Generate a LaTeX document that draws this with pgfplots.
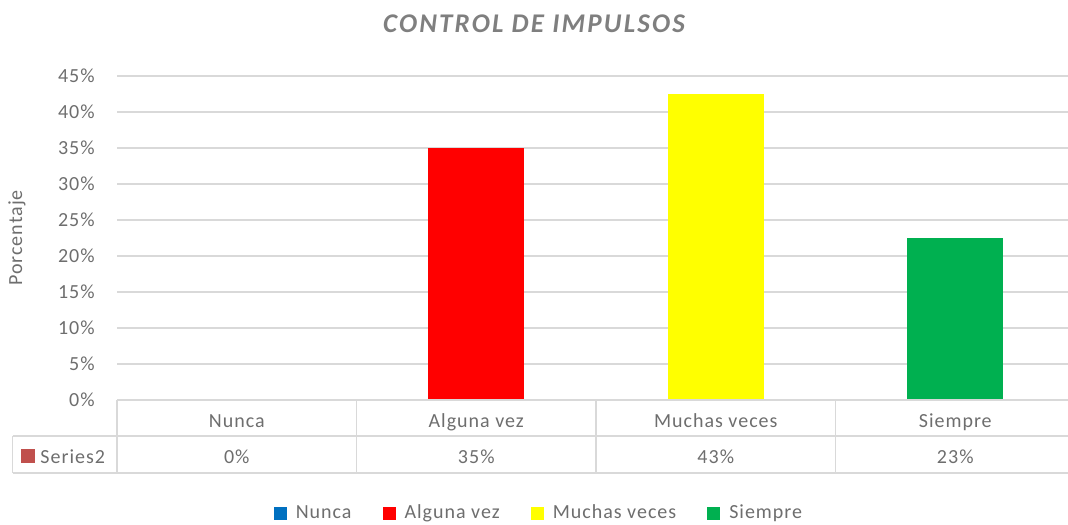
\documentclass[border=0pt]{standalone}
\usepackage{fontspec}
\setmainfont{Carlito}[LetterSpace=5]
\newfontfamily\titlefont{Carlito}[LetterSpace=8]
\usepackage{pgfplots}
\pgfplotsset{compat=1.18}
\definecolor{txt}{HTML}{6E6E6E}
\definecolor{ttl}{HTML}{7F7F7F}
\definecolor{grd}{HTML}{D9D9D9}
\definecolor{cNunca}{HTML}{0070C0}
\definecolor{cAlguna}{HTML}{FF0000}
\definecolor{cMuchas}{HTML}{FFFF00}
\definecolor{cSiempre}{HTML}{00B050}
\definecolor{cSer}{HTML}{C0504D}

\begin{document}
\begin{tikzpicture}[x=1pt,y=1pt]
\path[use as bounding box] (0,0) rectangle (534,262);

\node[font=\titlefont\fontsize{13.5}{16}\selectfont\bfseries\itshape, text=ttl] at (267,250) {CONTROL DE IMPULSOS};
\node[rotate=90, font=\fontsize{10}{12}\selectfont, text=txt] at (8.5,143) {Porcentaje};

\begin{axis}[
  at={(58.5pt,62pt)}, anchor=south west,
  scale only axis, width=479pt, height=162pt,
  ymin=0, ymax=45, xmin=-0.5, xmax=3.5,
  ytick={0,5,...,45},
  yticklabel={\pgfmathprintnumber{\tick}\%},
  xtick={0,1,2,3},
  xticklabels={Nunca, Alguna vez, Muchas veces, Siempre},
  extra x ticks={0,1,2,3},
  extra x tick labels={0\%, 35\%, 43\%, 23\%},
  extra x tick style={tick label style={yshift=-18pt}},
  x tick label style={anchor=base, inner sep=0pt, yshift=-13.5pt},
  yticklabel style={anchor=east, inner sep=0pt, xshift=-11pt},
  tick label style={font=\fontsize{10}{12}\selectfont, text=txt},
  /pgf/number format/assume math mode=true,
  major tick length=0pt,
  axis line style={draw=none},
  ymajorgrids, grid style={line width=0.75pt, draw=grd},
  clip=false,
  legend style={at={(0.4415,-0.349)}, anchor=center, draw=none,
    font=\fontsize{10}{12}\selectfont, text=txt, legend columns=4,
    nodes={text height=0.72em, text depth=0.22em},
    /tikz/every even column/.style={column sep=13.5pt},
    /tikz/every odd column/.style={column sep=2.5pt}},
  legend image code/.code={\fill[#1] (0pt,-3.25pt) rectangle (6.5pt,3.25pt);},
]
\addplot[ybar, bar width=48pt, bar shift=0pt, fill=cNunca, draw=none] coordinates {(0,0)};
\addplot[ybar, bar width=48pt, bar shift=0pt, fill=cAlguna, draw=none] coordinates {(1,35)};
\addplot[ybar, bar width=48pt, bar shift=0pt, fill=cMuchas, draw=none] coordinates {(2,42.5)};
\addplot[ybar, bar width=48pt, bar shift=0pt, fill=cSiempre, draw=none] coordinates {(3,22.5)};
\legend{Nunca, Alguna vez, Muchas veces, Siempre}
\end{axis}

% data table grid
\begin{scope}[draw=grd, line width=0.75pt]
\draw (58.5,62) -- (537.5,62);
\draw (6.3,44) -- (537.5,44);
\draw (6.3,25.5) -- (537.5,25.5);
\draw (6.3,44) -- (6.3,25.5);
\foreach \xx in {58.5,178.25,298,417.75,537.5} \draw (\xx,62) -- (\xx,25.5);
\end{scope}
\fill[cSer] (10.5,30.5) rectangle (17.5,37.5);
\node[anchor=base west, inner sep=0pt, font=\fontsize{10}{12}\selectfont, text=txt] at (20,30.5) {Series2};
\end{tikzpicture}
\end{document}
